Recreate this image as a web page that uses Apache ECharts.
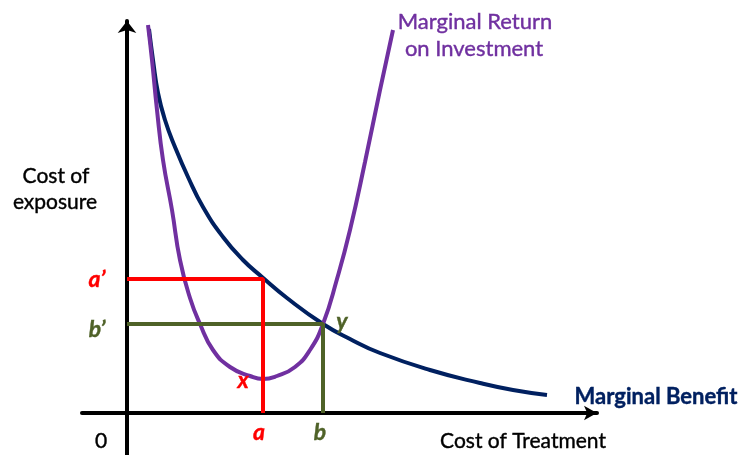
<!DOCTYPE html>
<html>
<head>
<meta charset="utf-8">
<script src="https://cdn.jsdelivr.net/npm/echarts@6/dist/echarts.min.js"></script>
<style>
  html, body { margin: 0; padding: 0; background: #fff; }
  #chart { width: 755px; height: 455px; }
</style>
</head>
<body>
<div id="chart"></div>
<script>
// curve points: [cost of treatment, cost of exposure]
var returnCurve = [
  [0.42, 9.7], [0.5, 8.825], [0.6, 7.575], [0.72, 6.325], [0.9, 5.075],
  [1.06, 3.825], [1.26, 2.875], [1.46, 2.225], [1.72, 1.575], [2.06, 1.15],
  [2.46, 0.925], [2.72, 0.85], [3.0, 0.925], [3.36, 1.15], [3.66, 1.575],
  [3.92, 2.225], [4.2, 3.35], [4.46, 4.575], [4.76, 6.275], [5.06, 8.075],
  [5.32, 9.575]
];
var benefitCurve = [
  [0.44, 9.6], [0.52, 8.825], [0.62, 8.0], [0.76, 7.325], [0.96, 6.65],
  [1.22, 5.9], [1.52, 5.15], [1.92, 4.4], [2.32, 3.825], [2.7, 3.4],
  [3.2, 2.875], [3.92, 2.225], [4.46, 1.85], [5.06, 1.5], [6.06, 1.075],
  [7.06, 0.75], [7.72, 0.575], [8.4, 0.45]
];
var pointA = 2.72, pointAPrime = 3.35;
var pointB = 3.92, pointBPrime = 2.225;

var purple = "#7030A0";
var navy = "#002060";
var red = "#FF0000";
var olive = "#4F6228";
var font = "Lato, 'Noto Sans', sans-serif";

var myChart = echarts.init(document.getElementById("chart"));

function txt(text, x, y, color, size, weight, style) {
  return {
    type: "text",
    x: x,
    y: y,
    z: 100,
    style: {
      text: text,
      fill: color,
      stroke: color,
      lineWidth: 0.4,
      font: (style || "normal") + " " + (weight || "normal") + " " + size + "px " + font,
      textAlign: "center",
      textVerticalAlign: "middle"
    }
  };
}

var option = {
  animation: false,
  grid: { left: 82, right: 158, top: 21, bottom: 0 },
  xAxis: {
    type: "value",
    min: -0.9,
    max: 9.4,
    axisLine: {
      onZero: true,
      symbol: ["none", "arrow"],
      symbolSize: [11, 13],
      lineStyle: { color: "#000", width: 4 }
    },
    axisTick: { show: false },
    axisLabel: { show: false },
    splitLine: { show: false }
  },
  yAxis: {
    type: "value",
    min: -1.05,
    max: 9.8,
    axisLine: {
      onZero: true,
      symbol: ["none", "arrow"],
      symbolSize: [14, 12],
      lineStyle: { color: "#000", width: 4 }
    },
    axisTick: { show: false },
    axisLabel: { show: false },
    splitLine: { show: false }
  },
  series: [
    {
      name: "Marginal Benefit",
      type: "line",
      data: benefitCurve,
      smooth: 0.5,
      showSymbol: false,
      clip: false,
      z: 2,
      lineStyle: { color: navy, width: 4 }
    },
    {
      name: "Marginal Return on Investment",
      type: "line",
      data: returnCurve,
      smooth: 0.5,
      showSymbol: false,
      clip: false,
      z: 3,
      lineStyle: { color: purple, width: 4 }
    },
    {
      name: "b",
      type: "line",
      data: [[0, pointBPrime], [pointB, pointBPrime], [pointB, 0]],
      showSymbol: false,
      z: 4,
      lineStyle: { color: olive, width: 4 }
    },
    {
      name: "a",
      type: "line",
      data: [[0, pointAPrime], [pointA, pointAPrime], [pointA, 0]],
      showSymbol: false,
      z: 5,
      lineStyle: { color: red, width: 4 }
    }
  ],
  graphic: [
    txt("Cost of", 56, 176, "#000", 21),
    txt("exposure", 55, 202, "#000", 21),
    txt("Marginal Return", 475, 22, purple, 22),
    txt("on Investment", 474, 49, purple, 22),
    txt("Marginal Benefit", 656, 397, navy, 22, "bold"),
    txt("Cost of Treatment", 523, 441, "#000", 21),
    txt("0", 101, 441, "#000", 21),
    txt("a\u2019", 97, 280, red, 23, "bold", "italic"),
    txt("b\u2019", 97, 330, olive, 23, "bold", "italic"),
    txt("x", 243, 381, red, 23, "bold", "italic"),
    txt("y", 342, 322, olive, 23, "bold", "italic"),
    txt("a", 259, 433, red, 23, "bold", "italic"),
    txt("b", 320, 433, olive, 23, "bold", "italic")
  ]
};

myChart.setOption(option);
window.addEventListener("resize", function () {
  myChart.resize();
});
</script>
</body>
</html>
